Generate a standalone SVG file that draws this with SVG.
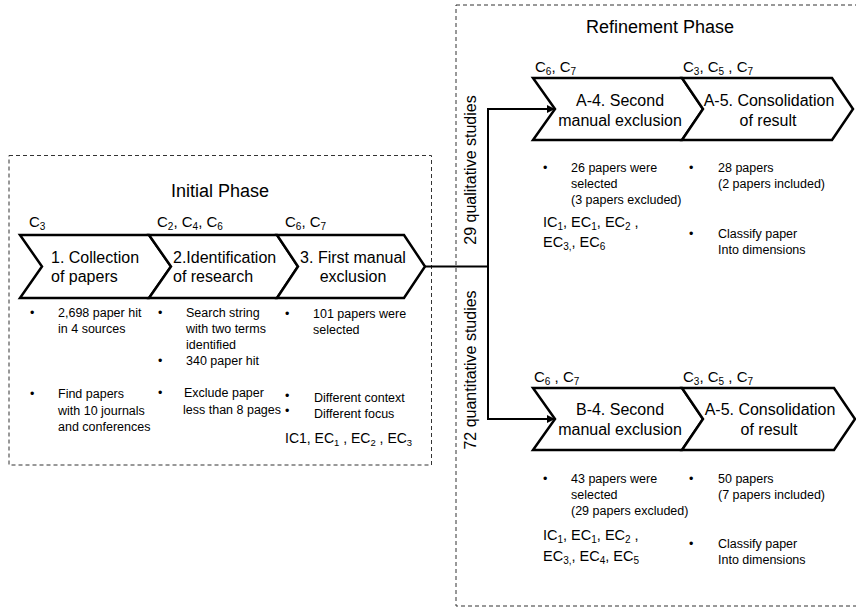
<svg xmlns="http://www.w3.org/2000/svg" width="856" height="610" viewBox="0 0 856 610">
<defs>
<style>
text{font-family:"Liberation Sans",Arial,sans-serif;fill:#000}
.phase{fill:none;stroke:#333;stroke-width:1;stroke-dasharray:4 3}
.chev{fill:#fff;stroke:#000;stroke-width:2.5;stroke-linejoin:miter}
.t16{font-size:16px}
.t18{font-size:18px}
.ic{font-size:14.5px}
.lbl{font-size:15px}
.b{font-size:12.5px}
.mid{text-anchor:middle}
.conn{fill:none;stroke:#000;stroke-width:2}
</style>
<marker id="arr" viewBox="0 0 10 10" refX="10" refY="5" markerWidth="8" markerHeight="8" markerUnits="userSpaceOnUse" orient="auto">
<path d="M0,0 L10,5 L0,10 z" fill="#000"/>
</marker>
</defs>

<g id="initial-phase">
<rect class="phase" x="9" y="155.5" width="422.5" height="309.5"/>
<text class="t18 mid" x="220" y="197">Initial Phase</text>
</g>

<g id="refinement-phase">
<rect class="phase" x="456" y="5" width="404" height="601"/>
<text class="t18 mid" x="660" y="33">Refinement Phase</text>
</g>

<g id="connectors">
<path class="conn" d="M425,266.5 H488"/>
<path class="conn" d="M488,108 V419"/>
<path class="conn" d="M487,109 H555" marker-end="url(#arr)"/>
<path class="conn" d="M487,419 H555" marker-end="url(#arr)"/>
<text class="t16 mid" transform="translate(476,170) rotate(-90)">29 qualitative studies</text>
<text class="t16 mid" transform="translate(476,370) rotate(-90)">72 quantitative studies</text>
</g>

<g id="step1">
<polygon class="chev" points="20,235 149,235 171,266.5 149,298 20,298 42,266.5"/>
<text class="t16" x="51" y="263">1. Collection</text>
<text class="t16" x="51" y="282">of papers</text>
<text class="lbl" x="29" y="227">C<tspan font-size="10" dy="3">3</tspan></text>
<text class="b" x="30" y="317">•</text>
<text class="b" x="58" y="317">2,698 paper hit</text>
<text class="b" x="58" y="333">in 4 sources</text>
<text class="b" x="30" y="398">•</text>
<text class="b" x="58" y="398">Find papers</text>
<text class="b" x="58" y="415">with 10 journals</text>
<text class="b" x="58" y="431">and conferences</text>
</g>

<g id="step2">
<polygon class="chev" points="149,235 277,235 298,266.5 277,298 149,298 171,266.5"/>
<text class="t16" x="173" y="263">2.Identification</text>
<text class="t16" x="173" y="282">of research</text>
<text class="lbl" x="157" y="227">C<tspan font-size="10" dy="3">2</tspan><tspan dy="-3">, C</tspan><tspan font-size="10" dy="3">4</tspan><tspan dy="-3">, C</tspan><tspan font-size="10" dy="3">6</tspan></text>
<text class="b" x="158" y="317">•</text>
<text class="b" x="186" y="317">Search string</text>
<text class="b" x="186" y="333">with two terms</text>
<text class="b" x="186" y="349">identified</text>
<text class="b" x="158" y="365">•</text>
<text class="b" x="186" y="365">340 paper hit</text>
<text class="b" x="158" y="397">•</text>
<text class="b" x="184" y="397">Exclude paper</text>
<text class="b" x="183" y="414">less than 8 pages</text>
</g>

<g id="step3">
<polygon class="chev" points="277,235 404,235 425,266.5 404,298 277,298 298,266.5"/>
<text class="t16 mid" x="353" y="263">3. First manual</text>
<text class="t16 mid" x="353" y="282">exclusion</text>
<text class="lbl" x="285" y="227">C<tspan font-size="10" dy="3">6</tspan><tspan dy="-3">, C</tspan><tspan font-size="10" dy="3">7</tspan></text>
<text class="b" x="285" y="318">•</text>
<text class="b" x="313" y="318">101 papers were</text>
<text class="b" x="313" y="334">selected</text>
<text class="b" x="285" y="400">•</text>
<text class="b" x="314" y="402">Different context</text>
<text class="b" x="285" y="415">•</text>
<text class="b" x="314" y="418">Different focus</text>
<text font-size="14" x="285" y="443">IC1, EC<tspan font-size="9.5" dy="3">1</tspan><tspan dy="-3"> , EC</tspan><tspan font-size="9.5" dy="3">2</tspan><tspan dy="-3"> , EC</tspan><tspan font-size="9.5" dy="3">3</tspan></text>
</g>

<g id="stepA4">
<polygon class="chev" points="533,78 682,78 703,109 682,140 533,140 555,109"/>
<text class="t16 mid" x="620" y="106">A-4. Second</text>
<text class="t16 mid" x="620" y="126">manual exclusion</text>
<text class="lbl" x="535" y="72">C<tspan font-size="10" dy="3">6</tspan><tspan dy="-3">, C</tspan><tspan font-size="10" dy="3">7</tspan></text>
<text class="b" x="543" y="172">•</text>
<text class="b" x="571" y="172">26 papers were</text>
<text class="b" x="571" y="188">selected</text>
<text class="b" x="571" y="204">(3 papers excluded)</text>
<text class="ic" x="543" y="227">IC<tspan font-size="10" dy="3">1</tspan><tspan dy="-3">, EC</tspan><tspan font-size="10" dy="3">1</tspan><tspan dy="-3">, EC</tspan><tspan font-size="10" dy="3">2</tspan><tspan dy="-3"> ,</tspan></text>
<text class="ic" x="543" y="247">EC<tspan font-size="10" dy="3">3,</tspan><tspan dy="-3">, EC</tspan><tspan font-size="10" dy="3">6</tspan></text>
</g>

<g id="stepA5-top">
<polygon class="chev" points="682,78 832,78 853,109 832,140 682,140 703,109"/>
<text class="t16 mid" x="769" y="106">A-5. Consolidation</text>
<text class="t16 mid" x="768" y="126">of result</text>
<text class="lbl" x="683" y="72">C<tspan font-size="10" dy="3">3</tspan><tspan dy="-3">, C</tspan><tspan font-size="10" dy="3">5</tspan><tspan dy="-3"> , C</tspan><tspan font-size="10" dy="3">7</tspan></text>
<text class="b" x="689" y="172">•</text>
<text class="b" x="718" y="172">28 papers</text>
<text class="b" x="718" y="188">(2 papers included)</text>
<text class="b" x="689" y="238">•</text>
<text class="b" x="718" y="238">Classify paper</text>
<text class="b" x="718" y="254">Into dimensions</text>
</g>

<g id="stepB4">
<polygon class="chev" points="533,388 682,388 703,419 682,450 533,450 555,419"/>
<text class="t16 mid" x="620" y="415">B-4. Second</text>
<text class="t16 mid" x="620" y="435">manual exclusion</text>
<text class="lbl" x="534" y="382">C<tspan font-size="10" dy="3">6</tspan><tspan dy="-3"> , C</tspan><tspan font-size="10" dy="3">7</tspan></text>
<text class="b" x="543" y="483">•</text>
<text class="b" x="571" y="483">43 papers were</text>
<text class="b" x="571" y="499">selected</text>
<text class="b" x="571" y="515">(29 papers excluded)</text>
<text class="ic" x="543" y="540">IC<tspan font-size="10" dy="3">1</tspan><tspan dy="-3">, EC</tspan><tspan font-size="10" dy="3">1</tspan><tspan dy="-3">, EC</tspan><tspan font-size="10" dy="3">2</tspan><tspan dy="-3"> ,</tspan></text>
<text class="ic" x="543" y="561">EC<tspan font-size="10" dy="3">3,</tspan><tspan dy="-3">, EC</tspan><tspan font-size="10" dy="3">4</tspan><tspan dy="-3">, EC</tspan><tspan font-size="10" dy="3">5</tspan></text>
</g>

<g id="stepA5-bottom">
<polygon class="chev" points="682,388 834,388 855,419 834,450 682,450 703,419"/>
<text class="t16 mid" x="770" y="415">A-5. Consolidation</text>
<text class="t16 mid" x="769" y="435">of result</text>
<text class="lbl" x="683" y="382">C<tspan font-size="10" dy="3">3</tspan><tspan dy="-3">, C</tspan><tspan font-size="10" dy="3">5</tspan><tspan dy="-3"> , C</tspan><tspan font-size="10" dy="3">7</tspan></text>
<text class="b" x="689" y="483">•</text>
<text class="b" x="718" y="483">50 papers</text>
<text class="b" x="718" y="499">(7 papers included)</text>
<text class="b" x="689" y="548">•</text>
<text class="b" x="718" y="548">Classify paper</text>
<text class="b" x="718" y="564">Into dimensions</text>
</g>
</svg>
